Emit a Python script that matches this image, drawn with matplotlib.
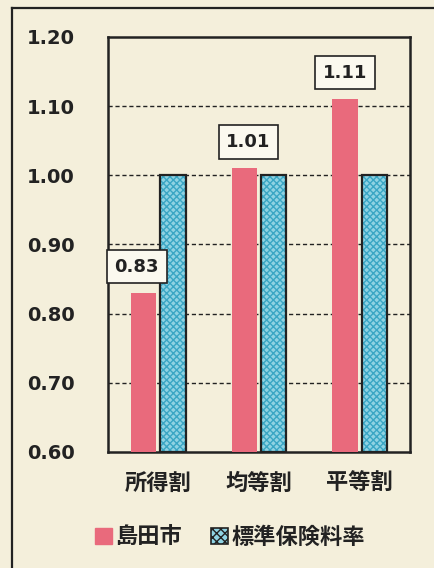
import matplotlib.pyplot as plt
from matplotlib.patches import Patch
from matplotlib.lines import Line2D

plt.rcParams['font.family'] = ['Noto Sans CJK JP', 'DejaVu Sans']
plt.rcParams['hatch.linewidth'] = 1.0

# ------------------ Data ------------------
categories = ["所得割", "均等割", "平等割"]
shimada = [0.83, 1.01, 1.11]
standard = [1.00, 1.00, 1.00]
series_names = ["島田市", "標準保険料率"]
yticks = [0.60, 0.70, 0.80, 0.90, 1.00, 1.10, 1.20]

bg = "#f4efdb"
pink = "#e96a7c"
blue = "#8fd3e3"
hatch_blue = "#3aa6c4"
ink = "#222222"

fig = plt.figure(figsize=(4.34, 5.68), dpi=100, facecolor=bg)
ax = fig.add_axes([108/434, 116/568, 302/434, 415/568], facecolor=bg)

x = list(range(len(categories)))
w = 0.25
off = 0.145

ax.bar([i - off for i in x], [v - 0.6 for v in shimada], w, bottom=0.6,
       color=pink, zorder=3)
# standard bars: hatched fill then black outline
ax.bar([i + off for i in x], [v - 0.6 for v in standard], w, bottom=0.6,
       color=blue, edgecolor=hatch_blue, hatch="xxxxx", linewidth=0, zorder=3)
ax.bar([i + off for i in x], [v - 0.6 for v in standard], w, bottom=0.6,
       facecolor="none", edgecolor=ink, linewidth=1.6, zorder=4)

for y in yticks[1:-1]:
    ax.axhline(y, color=ink, linestyle=(0, (3, 2)), linewidth=1.0, zorder=1)

ax.set_xlim(-0.5, 2.5)
ax.set_ylim(0.6, 1.2)
ax.set_yticks(yticks)
ax.set_yticklabels([f"{t:.2f}" for t in yticks], fontsize=14, fontweight="bold",
                   color=ink, family=["DejaVu Sans"])
ax.set_xticks(x)
ax.set_xticklabels(categories, fontsize=16, fontweight="bold", color=ink)
ax.tick_params(axis="y", length=0, pad=24)
ax.tick_params(axis="x", length=0, pad=14)
for s in ax.spines.values():
    s.set_linewidth(1.8)
    s.set_color(ink)

# value labels in boxes
label_dx = [-5, 3, 0]
for i, v in enumerate(shimada):
    ax.annotate(f"{v:.2f}", (i - off, v), xytext=(label_dx[i], 19),
                textcoords="offset points", ha="center", va="center",
                fontsize=13, fontweight="bold", color=ink, family=["DejaVu Sans"],
                bbox=dict(boxstyle="square,pad=0.42", facecolor="#fbf9ef",
                          edgecolor=ink, linewidth=1.2), zorder=6)

handles = [Patch(facecolor=pink, edgecolor=pink),
           Patch(facecolor=blue, edgecolor=ink, hatch="xxxx", linewidth=1.2)]
fig.legend(handles, series_names, loc="center", bbox_to_anchor=(0.53, 1 - 537/568),
           ncol=2, frameon=False, prop={"size": 16, "weight": "bold"},
           handlelength=0.75, handleheight=0.75, handletextpad=0.15, columnspacing=1.3,
           labelcolor=ink)

# outer frame of the scanned panel
fig.add_artist(Line2D([12/434, 12/434], [0, 1 - 8/568], color=ink, linewidth=1.6,
                      transform=fig.transFigure))
fig.add_artist(Line2D([12/434, 1], [1 - 8/568, 1 - 8/568], color=ink, linewidth=1.6,
                      transform=fig.transFigure))

fig.savefig("out.png", dpi=100, facecolor=bg)
